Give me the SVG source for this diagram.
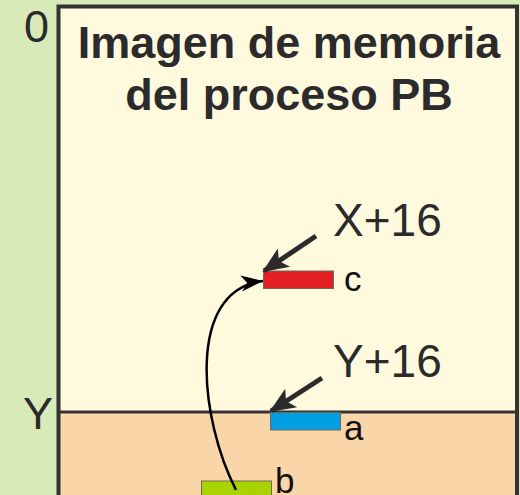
<svg xmlns="http://www.w3.org/2000/svg" width="520" height="495" viewBox="0 0 520 495">
<defs>
<style>
.t{font-family:"Liberation Sans",Arial,sans-serif;fill:#2b2b2b}
.lbl{font-family:"Liberation Sans",Arial,sans-serif;fill:#111;font-size:35px}
.ptr{stroke:#2b2b2b;stroke-width:5;fill:none}
.var{stroke:#6b6b5a;stroke-width:1}
</style>
<marker id="ah" markerUnits="userSpaceOnUse" markerWidth="26" markerHeight="26" viewBox="0 0 26 26" refX="24" refY="13" orient="auto">
<path d="M0,2 L26,13 L0,24 L6,13 Z" fill="#2b2b2b"/>
</marker>
<marker id="ac" markerUnits="userSpaceOnUse" markerWidth="24" markerHeight="20" viewBox="0 0 24 20" refX="22" refY="10" orient="auto">
<path d="M0,2 L22,10 L0,18 L6,10 Z" fill="#000"/>
</marker>
</defs>
<rect x="0" y="0" width="520" height="495" fill="#d9eab9"/>
<g id="memoria">
<rect x="58.5" y="6.5" width="458.5" height="406" fill="#fff9de"/>
<rect x="58.5" y="412" width="458.5" height="90" fill="#fad5a7"/>
<path d="M58.5,497 V6.5 H517 V497" fill="none" stroke="#333" stroke-width="4"/>
<line x1="58.5" y1="412" x2="517" y2="412" stroke="#333" stroke-width="3"/>
<text class="t" x="289" y="58" font-size="45" font-weight="bold" text-anchor="middle">Imagen de memoria</text>
<text class="t" x="289" y="110" font-size="45" font-weight="bold" text-anchor="middle">del proceso PB</text>
</g>
<g id="dir0"><text class="t" x="24" y="42" font-size="45">0</text></g>
<g id="dirY"><text class="t" x="23" y="429" font-size="45">Y</text></g>
<g id="var-c">
<rect class="var" x="263.5" y="271" width="70" height="17.5" fill="#e31e24"/>
<text class="lbl" x="344" y="291">c</text>
</g>
<g id="var-a">
<rect class="var" x="270.5" y="412.5" width="70" height="17.5" fill="#009fe3"/>
<text class="lbl" x="344" y="440">a</text>
</g>
<g id="var-b">
<rect class="var" x="201.5" y="481" width="70" height="20" fill="#a9d300"/>
<text class="lbl" x="275" y="493">b</text>
</g>
<g id="lblX"><text class="t" x="333" y="236" font-size="46">X+16</text></g>
<g id="lblY"><text class="t" x="333" y="377" font-size="46">Y+16</text></g>
<g id="connectors">
<line class="ptr" x1="316" y1="236" x2="264" y2="271" marker-end="url(#ah)"/>
<line class="ptr" x1="322" y1="378" x2="271" y2="411" marker-end="url(#ah)"/>
<path d="M236,490 C200,420 185,290 263,281" fill="none" stroke="#000" stroke-width="2.5" marker-end="url(#ac)"/>
</g>
</svg>
